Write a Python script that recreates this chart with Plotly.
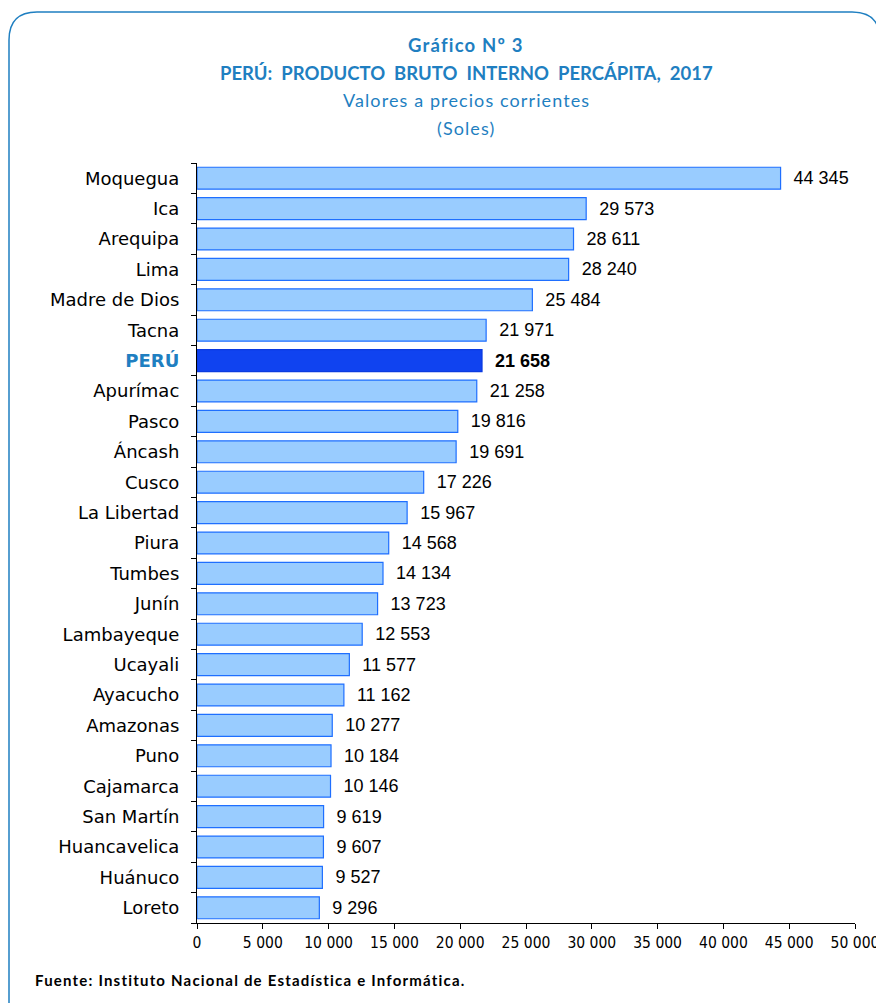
import plotly.graph_objects as go

regiones = ["Moquegua", "Ica", "Arequipa", "Lima", "Madre de Dios", "Tacna", "PERÚ", "Apurímac",
            "Pasco", "Áncash", "Cusco", "La Libertad", "Piura", "Tumbes", "Junín", "Lambayeque",
            "Ucayali", "Ayacucho", "Amazonas", "Puno", "Cajamarca", "San Martín", "Huancavelica",
            "Huánuco", "Loreto"]
pbi_percapita = [44345, 29573, 28611, 28240, 25484, 21971, 21658, 21258, 19816, 19691, 17226,
                 15967, 14568, 14134, 13723, 12553, 11577, 11162, 10277, 10184, 10146, 9619,
                 9607, 9527, 9296]
x_ticks = [0, 5000, 10000, 15000, 20000, 25000, 30000, 35000, 40000, 45000, 50000]

W, H = 876, 1003
L, R, T, B = 197, 21, 163, 80

es_peru = [r == "PERÚ" for r in regiones]
colores = ["#1043F0" if p else "#99CCFF" for p in es_peru]
bordes = ["#0A3AE0" if p else "#1F6FFF" for p in es_peru]
plantillas = ["&nbsp;&nbsp;<b>%{x:,d}</b>" if p else "&nbsp;&nbsp;%{x:,d}" for p in es_peru]
etiquetas = ["<b><span style='color:#1F7FC1'>PERÚ</span></b>" if p else r
             for r, p in zip(regiones, es_peru)]

fig = go.Figure()
fig.add_bar(x=pbi_percapita, y=regiones, orientation="h",
            marker=dict(color=colores, line=dict(color=bordes, width=1.2)),
            texttemplate=plantillas, textposition="outside", cliponaxis=False,
            textfont=dict(family="Liberation Sans, Arial", size=18, color="#000000"),
            width=0.72)

fig.update_yaxes(autorange="reversed", tickmode="array", tickvals=regiones, ticktext=etiquetas,
                 showline=True, linecolor="#000000", linewidth=1.2, ticks="outside",
                 tickson="boundaries", ticklen=5, tickcolor="#000000", showgrid=False,
                 ticklabelstandoff=13, automargin=False,
                 tickfont=dict(family="DejaVu Sans", size=18, color="#000000"))
fig.update_xaxes(range=[0, 50000], tickvals=x_ticks, tickformat=",d", showline=True,
                 linecolor="#000000", linewidth=1.2, ticks="outside", ticklen=5,
                 tickcolor="#000000", showgrid=False, zeroline=False,
                 ticklabeloverflow="allow", automargin=False,
                 tickfont=dict(family="DejaVu Sans Condensed, DejaVu Sans", size=15.5, color="#000000"))

pw, ph = W - L - R, H - T - B
def px_x(v):
    return (v - L) / pw
def px_y(v):
    return 1 - (v - T) / ph

titulo_x = px_x(466)
sp = "<span style='letter-spacing:1.1px'>"
lineas = [("<b><span style='letter-spacing:1.2px'>Gráfico Nº 3</span></b>", 45, 18.5),
          ("<b>PERÚ:  PRODUCTO  BRUTO  INTERNO  PERCÁPITA,  2017</b>", 73, 18.5),
          (sp + "Valores a precios corrientes</span>", 100, 18), (sp + "(Soles)</span>", 128, 18)]
for txt, yy, sz in lineas:
    fig.add_annotation(text=txt, xref="paper", yref="paper", x=titulo_x, y=px_y(yy),
                       xanchor="center", yanchor="middle", showarrow=False,
                       font=dict(family="Lato, Open Sans", size=sz, color="#1F7FC1"))

fig.add_annotation(text="<b><span style='letter-spacing:1.2px'>Fuente: Instituto Nacional de Estadística e Informática.</span></b>",
                   xref="paper", yref="paper", x=px_x(33), y=px_y(980), xanchor="left",
                   yanchor="middle", showarrow=False,
                   font=dict(family="Lato, Open Sans", size=15, color="#000000"))

# marco redondeado
x0, x1, y0, y1, rr = px_x(9), px_x(880), px_y(12), px_y(1010), 28
rx, ry = rr / pw, rr / ph
path = (f"M {x0},{y1} L {x0},{y0 - ry} Q {x0},{y0} {x0 + rx},{y0} "
        f"L {x1 - rx},{y0} Q {x1},{y0} {x1},{y0 - ry} L {x1},{y1}")
fig.add_shape(type="path", path=path, xref="paper", yref="paper",
              line=dict(color="#1F7FC1", width=1.5))

fig.update_layout(width=W, height=H, margin=dict(l=L, r=R, t=T, b=B, autoexpand=False),
                  plot_bgcolor="white", paper_bgcolor="white", separators=". ",
                  showlegend=False, bargap=0.28)

fig.write_html("out.html", config={"displayModeBar": False},
               post_script="document.body.style.margin='0';document.body.style.overflow='hidden';")
